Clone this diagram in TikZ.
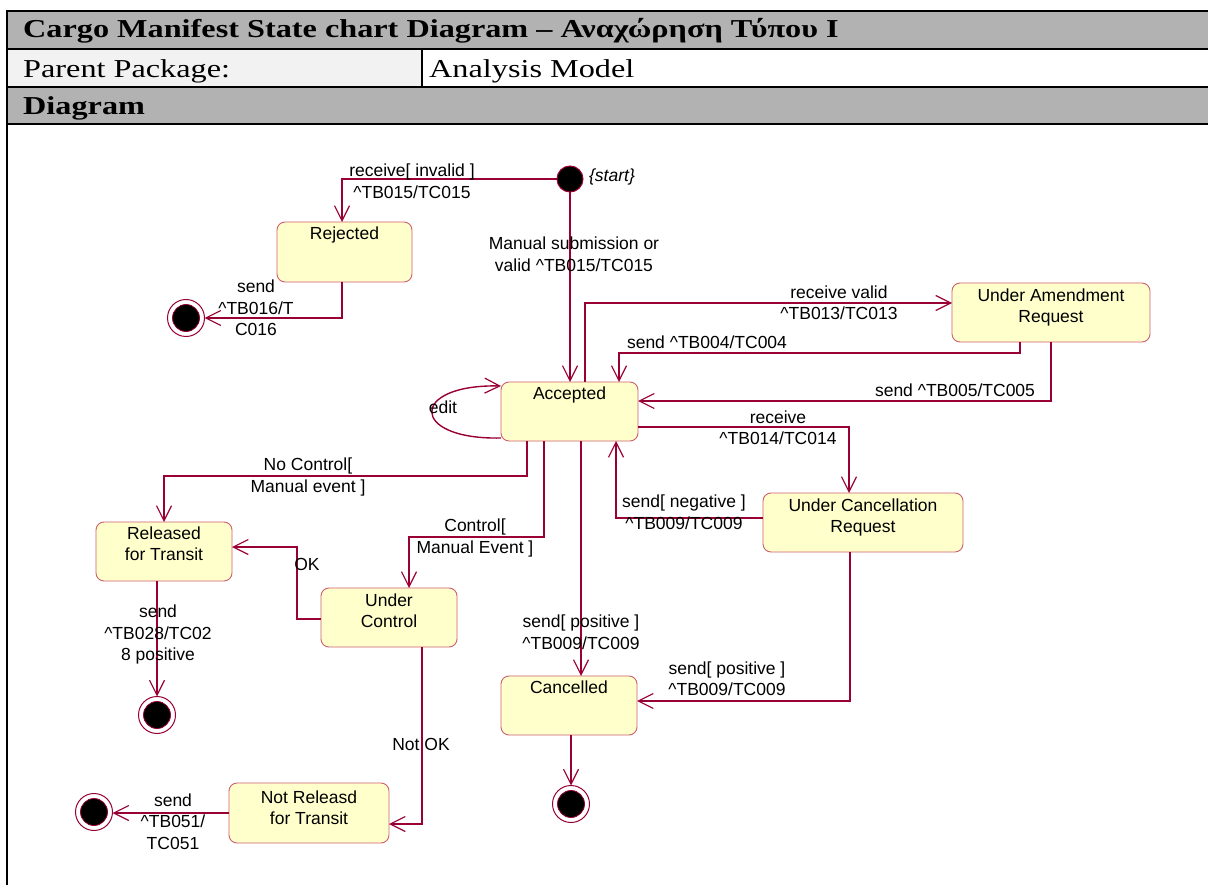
\documentclass[tikz,border=0pt]{standalone}
\usepackage{fontspec}
\setmainfont{Liberation Sans}
\newfontfamily\hdrfont[FakeStretch=1.25]{Liberation Serif}
\usetikzlibrary{arrows.meta}
\definecolor{lc}{RGB}{153,0,51}
\definecolor{bc}{RGB}{204,96,112}
\definecolor{sf}{RGB}{255,255,204}
\definecolor{hg}{RGB}{178,178,178}
\definecolor{lg}{RGB}{242,242,242}
\newcommand{\mylblfont}{\fontsize{17.5}{21.5}\selectfont}
\newcommand{\myhdrfont}{\hdrfont\fontsize{25.8}{30}\selectfont}
\newcommand{\crt}{\textasciicircum}
\begin{document}
\begin{tikzpicture}[x=1pt,y=-1pt,
  tr/.style={draw=lc, line width=1.4pt, -{Straight Barb[length=15pt,width=15pt,line width=1.2pt]}},
  state/.style={draw=bc, fill=sf, rounded corners=8pt, line width=0.9pt, inner sep=0pt, outer sep=0pt},
  lbl/.style={font=\mylblfont, align=center, inner sep=0pt, text=black},
  slbl/.style={lbl, anchor=north, yshift=-4.5pt},
  initst/.style={circle, fill=black, draw=lc, line width=1pt, minimum size=26pt, inner sep=0pt, outer sep=0pt},
  finalst/.style={circle, draw=lc, fill=white, line width=1pt, minimum size=37pt, inner sep=0pt, outer sep=0pt,
    path picture={\filldraw[fill=black,draw=lc,line width=0.8pt] (path picture bounding box.center) circle (13.5pt);}},
  hdr/.style={font=\myhdrfont, anchor=base west, inner sep=0pt},
  tline/.style={draw=black, line width=2.5pt}
]
\useasboundingbox (0,0) rectangle (1208,885);
\fill[white] (0,0) rectangle (1208,885);
% header table
\fill[hg] (7,11) rectangle (1208,49);
\fill[lg] (7,49) rectangle (422,87);
\fill[hg] (7,87) rectangle (1208,124);
\draw[tline] (1210,11) -- (7,11) -- (7,887);
\draw[tline] (7,49) -- (1210,49);
\draw[tline] (7,87) -- (1210,87);
\draw[tline] (7,124) -- (1210,124);
\draw[tline] (422,49) -- (422,87);
\node[hdr] (title) at (23,38) {\bfseries Cargo Manifest State chart Diagram – Αναχώρηση Τύπου I};
\node[hdr] (pp) at (23,78) {Parent Package:};
\node[hdr] (am) at (429,78) {Analysis Model};
\node[hdr] (dg) at (23,115) {\bfseries Diagram};

% states
\node[initst] (init) at (570,179) {};
\node[lbl, font=\mylblfont\itshape] (startl) at (612,177) {\{start\}};
\node[state, minimum width=135pt, minimum height=60pt, label={[slbl]north:Rejected}] (rej) at (344.5,252) {};
\node[state, minimum width=137pt, minimum height=59pt, label={[slbl]north:Accepted}] (acc) at (569.5,411.5) {};
\node[state, minimum width=198pt, minimum height=59pt, label={[slbl,yshift=-1pt]north:Under Amendment\\Request}] (ua) at (1051,312.5) {};
\node[state, minimum width=200pt, minimum height=59pt, label={[slbl,yshift=-1pt]north:Under Cancellation\\Request}] (uc) at (863,522.5) {};
\node[state, minimum width=136pt, minimum height=59pt, label={[slbl]north:Cancelled}] (canc) at (569,705.5) {};
\node[state, minimum width=136pt, minimum height=59pt, label={[slbl]north:Released\\for Transit}] (rel) at (164,551.5) {};
\node[state, minimum width=136pt, minimum height=59pt, label={[slbl,yshift=-1pt]north:Under\\Control}] (uctrl) at (389,617.5) {};
\node[state, minimum width=160pt, minimum height=60pt, label={[slbl,yshift=-3pt]north:Not Releasd\\for Transit}] (nr) at (309,813) {};
\node[finalst] (f1) at (186,318) {};
\node[finalst] (f2) at (157,715) {};
\node[finalst] (f3) at (571,804) {};
\node[finalst] (f4) at (94,812) {};

% transitions
\draw[tr] (init.west) -| ([xshift=-2.5pt]rej.north);
\draw[tr] (init.south) -- (init.south |- acc.north);
\draw[tr] ([xshift=-2.5pt]rej.south) |- (f1.east);
\draw[tr] ([xshift=15.5pt]acc.north) |- ([yshift=9.5pt]ua.west);
\draw[tr] ([xshift=-31pt]ua.south) -- ++(0,11) -| ([xshift=49.5pt]acc.north);
\draw[tr] (ua.south) |- ([yshift=10.5pt]acc.east);
\draw[tr] ([yshift=-15.5pt]acc.east) -| ([xshift=-14pt]uc.north);
\draw[tr] ([yshift=4.5pt]uc.west) -| ([xshift=46.5pt]acc.south);
\draw[tr] ([xshift=-13pt]uc.south) |- ([yshift=4.5pt]canc.east);
\draw[tr] ([xshift=11.5pt]acc.south) -- ([xshift=12pt]canc.north);
\draw[tr] (f3 |- canc.south) -- (f3.north);
\draw[tr] ([xshift=-42.5pt]acc.south) -- ++(0,35) -| (rel.north);
\draw[tr] ([xshift=-25.5pt]acc.south) -- ++(0,96) -| ([xshift=20pt]uctrl.north);
\draw[tr] ([yshift=-1.5pt]uctrl.west) -- ++(-24,0) |- ([yshift=4.5pt]rel.east);
\draw[tr] (f2 |- rel.south) -- (f2.north);
\draw[tr] ([xshift=33pt]uctrl.south) |- ([yshift=-11pt]nr.east);
\draw[tr] (nr.west) -- (nr.west -| f4.east);
\draw[tr] ([yshift=-26.5pt]acc.west) .. controls +(-92,2) and +(-92,-2) .. ([yshift=25.5pt]acc.west);

% transition labels
\node[lbl] (l1) at (412,181) {receive[ invalid ]\\\crt TB015/TC015};
\node[lbl] (l2) at (574,254) {Manual submission or\\valid \crt TB015/TC015};
\node[lbl] (l3) at (256,308) {send\\\crt TB016/T\\C016};
\node[lbl] (l4) at (839,302.5) {receive valid\\\crt TB013/TC013};
\node[lbl] (l5) at (707,342) {send \crt TB004/TC004};
\node[lbl] (l6) at (955,390) {send \crt TB005/TC005};
\node[lbl] (l7) at (778,427.5) {receive\\\crt TB014/TC014};
\node[lbl] (l8) at (443,407) {edit};
\node[lbl] (l9) at (684,512) {send[ negative ]\\\crt TB009/TC009};
\node[lbl] (l10) at (308,477) {No Control[\\Manual event ]};
\node[lbl] (l11) at (475,538) {Control[\\Manual Event ]};
\node[lbl] (l12) at (307,564) {OK};
\node[lbl] (l13) at (581,632) {send[ positive ]\\\crt TB009/TC009};
\node[lbl] (l14) at (727,678.5) {send[ positive ]\\\crt TB009/TC009};
\node[lbl] (l15) at (158,634.5) {send\\\crt TB028/TC02\\8 positive};
\node[lbl] (l16) at (421,744) {Not OK};
\node[lbl] (l17) at (173,821.5) {send\\\crt TB051/\\TC051};
\end{tikzpicture}
\end{document}
